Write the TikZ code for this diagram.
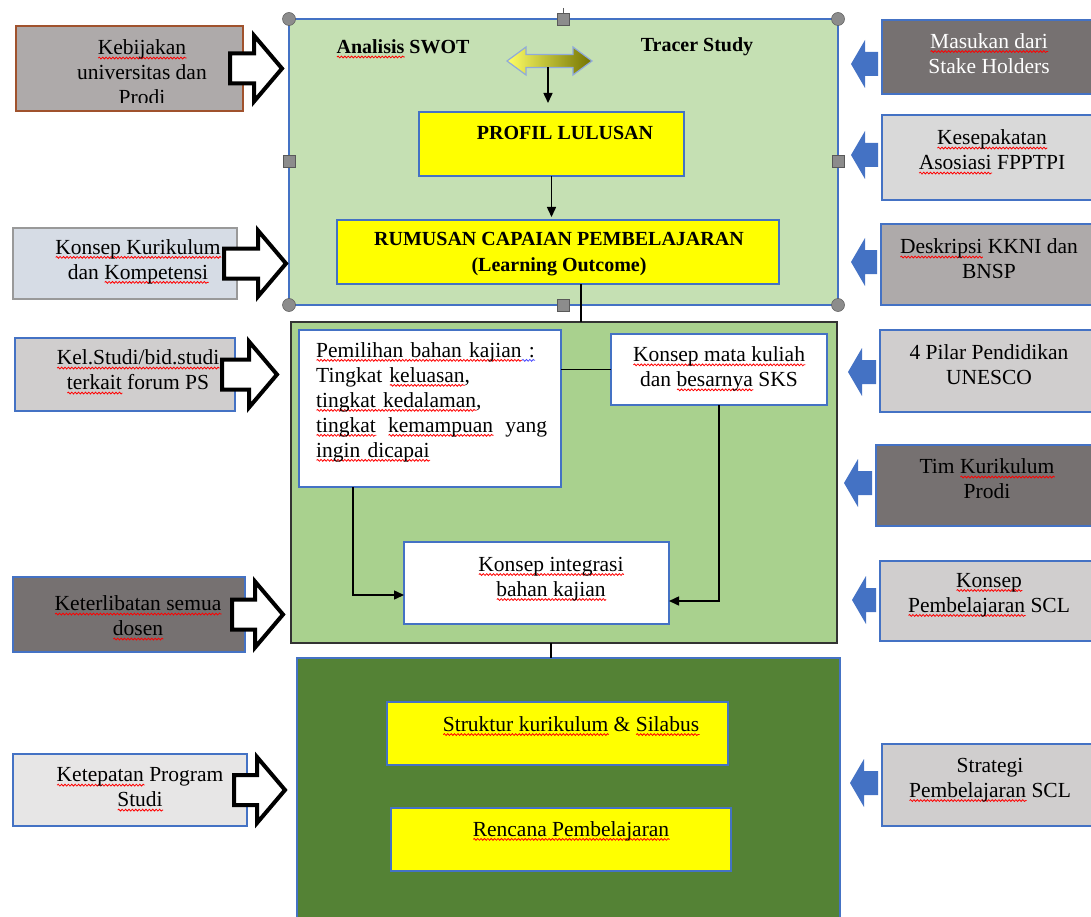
\documentclass[tikz,border=0pt]{standalone}
\usepackage{fontspec}
\setmainfont{Liberation Serif}
\usetikzlibrary{arrows.meta,calc,decorations.pathmorphing}
\definecolor{tgreen}{HTML}{C5E0B3}
\definecolor{mgreen}{HTML}{A9D18E}
\definecolor{dgreen}{HTML}{548235}
\definecolor{bblue}{HTML}{4472C4}
\definecolor{brn}{HTML}{A0522D}
\definecolor{ga}{HTML}{AEAAAA}
\definecolor{gb}{HTML}{D6DCE5}
\definecolor{gc}{HTML}{D0CECE}
\definecolor{gd}{HTML}{767171}
\definecolor{ge}{HTML}{E7E6E6}
\definecolor{gf}{HTML}{D9D9D9}
\definecolor{hgray}{HTML}{8C8C8C}
\definecolor{yel}{HTML}{FFFF00}
\newlength\sqlen
\newcommand\sqc[2]{\leavevmode\settowidth\sqlen{#2}\rlap{\raisebox{-3.2pt}[0pt][0pt]{\tikz[baseline=0pt]\draw[#1,line width=0.8pt,decorate,decoration={snake,amplitude=0.9pt,segment length=3.4pt}] (0pt,0pt) -- (\sqlen,0pt);}}#2}
\newcommand\sq[1]{\sqc{red}{#1}}
\newcommand\bsq[1]{\sqc{blue!70}{#1}}
\newcommand\bx[6]{\node[#6, inner sep=0pt, outer sep=0pt, minimum width={(#4-#2)*1pt}, minimum height={(#5-#3)*1pt}] (#1) at ({(#2+#4)/2},{(#3+#5)/2}) {};}
\newcommand\wblock[2]{\draw[wblk] let \p1=(#1.east) in (\x1-13pt,\y1+15pt) -- (#2pt-28pt,\y1+15pt) -- (#2pt-28pt,\y1+33pt) -- (#2pt,\y1) -- (#2pt-28pt,\y1-33pt) -- (#2pt-28pt,\y1-15pt) -- (\x1-13pt,\y1-15pt) -- cycle;}
\newcommand\bblock[3]{\fill[bblue] let \p1=(#1.west) in (\x1-4pt,-#3pt+12pt) -- (#2pt+14pt,-#3pt+12pt) -- (#2pt+14pt,-#3pt+24pt) -- (#2pt,-#3pt) -- (#2pt+14pt,-#3pt-24pt) -- (#2pt+14pt,-#3pt-12pt) -- (\x1-4pt,-#3pt-12pt) -- cycle;}
\begin{document}
\begin{tikzpicture}[x=1pt,y=-1pt,
  txt/.style={font=\fontsize{21.5}{25}\selectfont, align=center, inner sep=0pt},
  txtb/.style={font=\fontsize{20}{26}\selectfont\bfseries, align=center, inner sep=0pt},
  wbox/.style={draw=bblue, line width=1.3pt, fill=white},
  ybox/.style={draw=bblue, line width=1.3pt, fill=yel},
  lboxs/.style={draw=bblue, line width=1.3pt},
  rbox/.style={draw=bblue, line width=1.3pt},
  wblk/.style={draw=black, line width=4pt, fill=white, line join=miter},
  handle/.style={fill=hgray, draw=gray!70!black, line width=0.5pt},
  arr/.style={line width=1.5pt, -{Triangle[length=10pt,width=9pt]}},
  ln/.style={line width=1.5pt}]
\useasboundingbox (0,0) rectangle (1091,917);
% ---------- top container ----------
\bx{top}{289}{19}{838}{305}{draw=bblue, line width=1.3pt, fill=tgreen}
\node[txtb] (swot) at (403,47) {\sq{Analisis} SWOT};
\node[txtb] (tracer) at (697,47) {Tracer Study};
\path[draw=bblue!60, line width=1.2pt, left color=yel!60!white, right color=yel!45!black]
  (507,61) -- (526,47) -- (526,54.5) -- (573,54.5) -- (573,47) -- (592,61) -- (573,75) -- (573,67.5) -- (526,67.5) -- (526,75) -- cycle;
\coordinate (dblb) at (548,67.5);
\bx{pl}{419}{112}{684}{176}{ybox}
\node[txtb] (plt) at (565,133) {PROFIL LULUSAN};
\bx{rc}{337}{220}{779}{284}{ybox}
\node[txtb] (rct) at (559,254) {RUMUSAN CAPAIAN PEMBELAJARAN\\(Learning Outcome)};
\draw[arr, shorten >=9pt] (dblb) -- (dblb |- pl.north);
\draw[arr, shorten >=3pt] (pl.south) -- (pl.south |- rc.north);
% handles
\draw[gray!70!black, line width=1pt] (563,8) -- (563,14);
\foreach \hx/\hy in {289/19,838/19,289/305,838/305} \filldraw[handle] (\hx,\hy) circle (6.5pt);
\foreach \hx/\hy in {563/19,289/161,838/161,563/305} \filldraw[handle] (\hx-6,\hy-6) rectangle (\hx+6,\hy+6);
% ---------- middle container ----------
\bx{mid}{291}{322}{837}{643}{draw=black!80, line width=2pt, fill=mgreen}
\draw[ln] ([xshift=23pt]rc.south) -- ([xshift=23pt]rc.south |- mid.north);
\bx{pm}{299}{330}{561}{487}{wbox}
\node[txt, anchor=west, align=left, text width=231pt] (pmt) at (316,402) {\sq{Pemilihan bahan kajian}\bsq{ :}\\Tingkat \sq{keluasan},\\\sq{tingkat kedalaman},\\\leavevmode\hbox to 231pt{\sq{tingkat}\hfill\sq{kemampuan}\hfill yang}\\\sq{ingin dicapai}};
\bx{km}{611}{334}{827}{405}{wbox}
\node[txt] (kmt) at (719,369) {\sq{Konsep mata kuliah}\\dan \sq{besarnya} SKS};
\bx{ki}{404}{542}{669}{624}{wbox}
\node[txt] (kit) at (551,579) {\sq{Konsep integrasi}\\\sq{bahan kajian}};
\draw[ln] (km.west -| pm.east) -- (km.west);
\draw[arr] ([xshift=-77pt]pm.south) |- ([yshift=-12pt]ki.west);
\draw[arr] (km.south) |- ([yshift=-18pt]ki.east);
% ---------- bottom container ----------
\bx{bot}{297}{658}{840}{925}{draw=bblue, line width=1.3pt, fill=dgreen}
\draw[ln] ([xshift=-13pt]mid.south) -- ([xshift=-13pt]mid.south |- bot.north);
\bx{sk}{387}{702}{728}{765}{ybox}
\node[txt] (skt) at (571,724) {\sq{Struktur kurikulum} \& \sq{Silabus}};
\bx{rp}{391}{808}{731}{871}{ybox}
\node[txt] (rpt) at (571,831) {\sq{Rencana Pembelajaran}};
% ---------- left column ----------
\bx{kb}{16}{26}{243}{111}{draw=brn, line width=1.3pt, fill=ga}
\begin{scope}
\clip (16,26) rectangle (243,103);
\node[txt] (kbt) at (142,72.5) {\sq{Kebijakan}\\universitas dan\\Prodi};
\end{scope}
\bx{kk}{13}{228}{237}{299}{draw=gray!80, line width=1.3pt, fill=gb}
\node[txt] (kkt) at (138,261.5) {\sq{Konsep Kurikulum}\\dan \sq{Kompetensi}};
\bx{kl}{15}{338}{235}{411}{lboxs, fill=gc}
\node[txt] (klt) at (138,370) {\sq{Kel.Studi/bid.studi}\\\sq{terkait} forum PS};
\bx{kt}{13}{577}{245}{652}{lboxs, fill=gd}
\node[txt] (ktt) at (138,616) {\sq{Keterlibatan semua}\\\sq{dosen}};
\bx{kp}{13}{754}{247}{826}{lboxs, fill=ge}
\node[txt] (kpt) at (140,787.5) {\sq{Ketepatan} Program\\\sq{Studi}};
\wblock{kb}{282}
\wblock{kk}{286}
\wblock{kl}{277}
\wblock{kt}{283}
\wblock{kp}{285}
% ---------- right column ----------
\bx{ms}{882}{20}{1095}{94}{rbox, fill=gd}
\node[txt, text=white] (mst) at (989,53.5) {\sq{Masukan dari}\\Stake Holders};
\bx{ks}{882}{115}{1095}{200}{rbox, fill=gf}
\node[txt] (kst) at (992,150) {\sq{Kesepakatan}\\\sq{Asosiasi} FPPTPI};
\bx{ds}{881}{224}{1095}{305}{rbox, fill=ga}
\node[txt] (dst) at (989,259) {\sq{Deskripsi} KKNI dan\\BNSP};
\bx{ps}{880}{330}{1095}{412}{rbox, fill=gc}
\node[txt] (pst) at (989,365) {4 Pilar Pendidikan\\UNESCO};
\bx{ts}{876}{445}{1095}{526}{rbox, fill=gd}
\node[txt] (tst) at (987,479) {Tim \sq{Kurikulum}\\Prodi};
\bx{cs}{880}{561}{1095}{641}{rbox, fill=gc}
\node[txt] (cst) at (989,595) {\sq{Konsep}\\\sq{Pembelajaran} SCL};
\bx{ss}{882}{744}{1095}{826}{rbox, fill=gc}
\node[txt] (sst) at (990,780) {Strategi\\\sq{Pembelajaran} SCL};
\bblock{ms}{851}{64}
\bblock{ks}{851}{155}
\bblock{ds}{851}{262}
\bblock{ps}{848}{372}
\bblock{ts}{844}{483}
\bblock{cs}{852}{600}
\bblock{ss}{850}{783}
\end{tikzpicture}
\end{document}
